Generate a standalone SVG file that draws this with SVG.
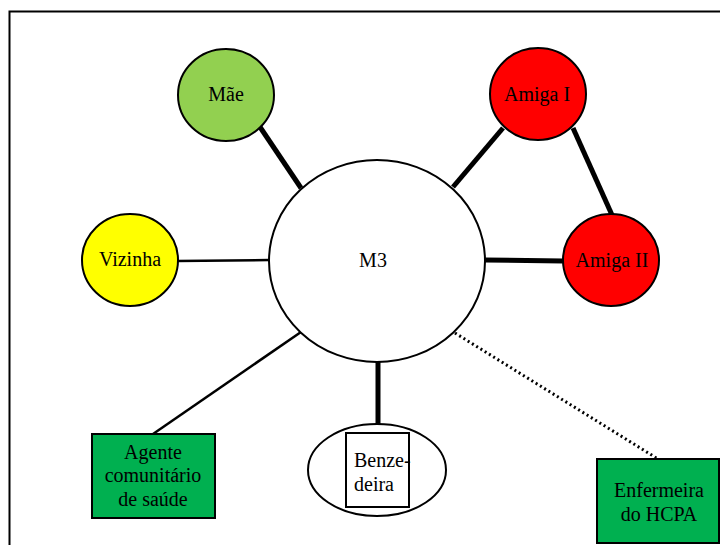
<svg xmlns="http://www.w3.org/2000/svg" width="720" height="545" viewBox="0 0 720 545">
  <style>
    .lbl { font-family: "Liberation Serif", "Times New Roman", serif; font-size: 20px; fill: #000; text-anchor: middle; }
    .node { stroke: #000; stroke-width: 2; }
    .thick { stroke: #000; stroke-width: 5; fill: none; }
    .thin { stroke: #000; stroke-width: 2.5; fill: none; }
    .dot { stroke: #000; stroke-width: 3; stroke-dasharray: 2 3; fill: none; }
  </style>
  <rect width="720" height="545" fill="#fff"/>
  <!-- frame -->
  <path d="M9.5,546 V11.5 H722" fill="none" stroke="#000" stroke-width="2"/>

  <g id="connectors">
    <line class="thick" x1="260" y1="127" x2="301" y2="188"/>
    <line class="thin" x1="177" y1="261" x2="269" y2="260"/>
    <line class="thick" x1="503" y1="128" x2="453" y2="187"/>
    <line class="thick" x1="573" y1="128" x2="612" y2="215"/>
    <line class="thick" x1="485" y1="260" x2="563" y2="261"/>
    <line class="thin" x1="301" y1="332" x2="153" y2="434"/>
    <line class="thick" x1="378" y1="362" x2="378" y2="425"/>
    <line class="dot" x1="455" y1="333" x2="658" y2="459"/>
  </g>

  <g id="m3">
    <ellipse class="node" cx="377" cy="261" rx="108" ry="101" fill="#fff"/>
    <text class="lbl" x="373" y="267">M3</text>
  </g>

  <g id="mae">
    <ellipse class="node" cx="226" cy="95" rx="48" ry="46" fill="#92D050"/>
    <text class="lbl" x="226" y="101">Mãe</text>
  </g>

  <g id="vizinha">
    <ellipse class="node" cx="130" cy="260" rx="48" ry="46" fill="#FFFF00"/>
    <text class="lbl" x="130" y="266">Vizinha</text>
  </g>

  <g id="amiga1">
    <ellipse class="node" cx="538" cy="94" rx="48" ry="46" fill="#FF0000"/>
    <text class="lbl" x="537" y="101">Amiga I</text>
  </g>

  <g id="amiga2">
    <ellipse class="node" cx="611" cy="260" rx="48" ry="46" fill="#FF0000"/>
    <text class="lbl" x="612" y="267">Amiga II</text>
  </g>

  <g id="agente">
    <rect class="node" x="92" y="434" width="123" height="84" fill="#00B050"/>
    <text class="lbl" x="153" y="459">Agente</text>
    <text class="lbl" x="153" y="482">comunitário</text>
    <text class="lbl" x="153" y="506">de saúde</text>
  </g>

  <g id="benzedeira">
    <ellipse class="node" cx="377" cy="470" rx="69" ry="46" fill="#fff"/>
    <rect class="node" x="346" y="433" width="63" height="74" fill="#fff"/>
    <text class="lbl" x="354" y="467" style="text-anchor:start">Benze-</text>
    <text class="lbl" x="354" y="491" style="text-anchor:start">deira</text>
  </g>

  <g id="enfermeira">
    <rect class="node" x="597" y="459" width="122" height="84" fill="#00B050"/>
    <text class="lbl" x="659" y="497">Enfermeira</text>
    <text class="lbl" x="659" y="521">do HCPA</text>
  </g>
</svg>
